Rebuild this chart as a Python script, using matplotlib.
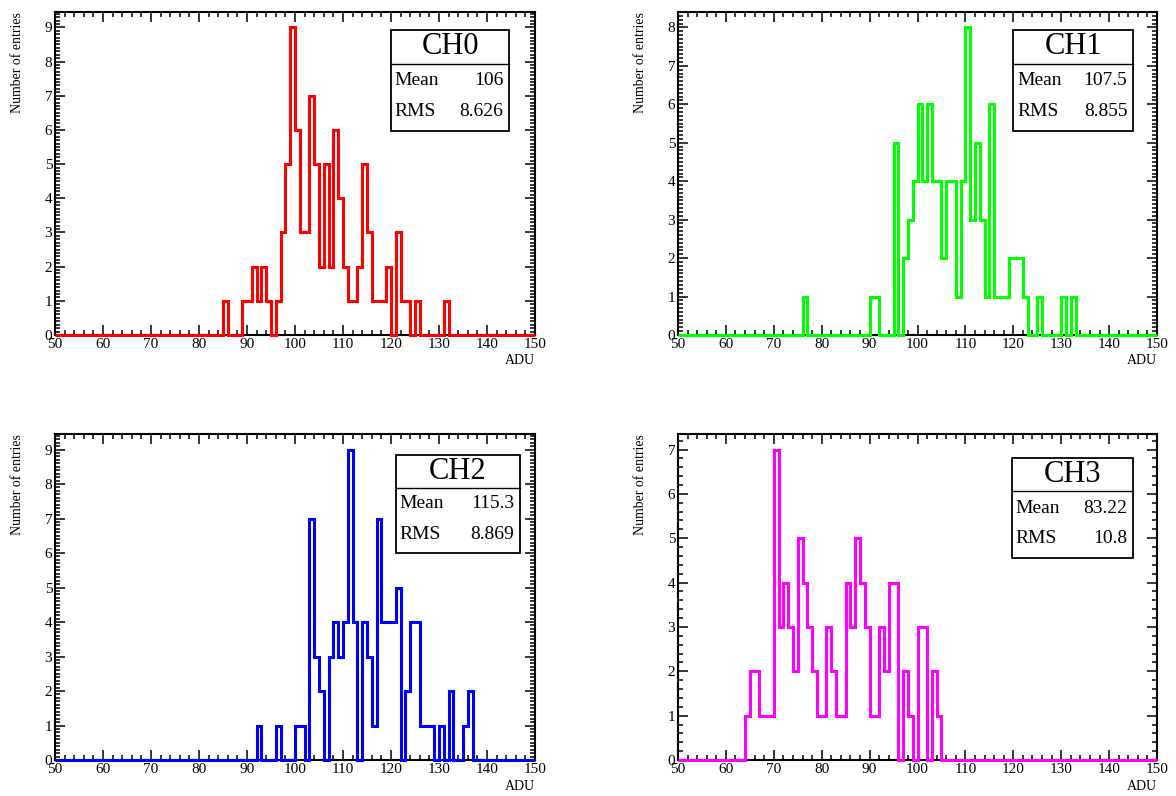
import numpy as np
import matplotlib
matplotlib.use("Agg")
import matplotlib.pyplot as plt
from matplotlib.patches import Rectangle
from matplotlib.ticker import MultipleLocator

plt.rcParams['font.family'] = ['Liberation Serif', 'DejaVu Serif']

# --- data: 1 ADU bins from 50 to 150, only non-empty bins listed ---
EDGES = np.arange(50, 151, 1)

ch0_bins = [85, 89, 90, 91, 92, 93, 94, 96, 97, 98, 99, 100, 101, 102, 103, 104, 105, 106,
            107, 108, 109, 110, 111, 112, 113, 114, 115, 116, 117, 118, 119, 121, 122, 123,
            125, 131]
ch0_counts = [1, 1, 1, 2, 1, 2, 1, 1, 3, 5, 9, 6, 3, 3, 7, 5, 2, 5,
              2, 6, 4, 2, 1, 1, 2, 5, 3, 1, 1, 1, 2, 3, 1, 1,
              1, 1]

ch1_bins = [76, 90, 91, 95, 97, 98, 99, 100, 101, 102, 103, 104, 105, 106, 107, 108, 109,
            110, 111, 112, 113, 114, 115, 116, 117, 118, 119, 120, 121, 122, 125, 130, 132]
ch1_counts = [1, 1, 1, 5, 2, 3, 4, 6, 4, 6, 4, 4, 2, 4, 4, 1, 4,
              8, 3, 5, 3, 1, 6, 1, 1, 1, 2, 2, 2, 1, 1, 1, 1]

ch2_bins = [92, 96, 100, 101, 103, 104, 105, 107, 108, 109, 110, 111, 112, 114, 115, 116,
            117, 118, 119, 120, 121, 123, 124, 125, 126, 127, 128, 130, 132, 135, 136]
ch2_counts = [1, 1, 1, 1, 7, 3, 2, 3, 4, 3, 4, 9, 4, 4, 3, 1,
              7, 4, 4, 4, 5, 2, 4, 4, 1, 1, 1, 1, 2, 1, 2]

ch3_bins = [64, 65, 66, 67, 68, 69, 70, 71, 72, 73, 74, 75, 76, 77, 78, 79, 80, 81, 82, 83,
            84, 85, 86, 87, 88, 89, 90, 91, 92, 93, 94, 95, 97, 98, 100, 101, 103, 104]
ch3_counts = [1, 2, 2, 1, 1, 1, 7, 3, 4, 3, 2, 5, 4, 3, 2, 1, 1, 3, 2, 1,
              1, 4, 3, 5, 4, 3, 1, 1, 3, 2, 4, 4, 2, 1, 3, 3, 2, 1]

names = ["CH0", "CH1", "CH2", "CH3"]
means = ["106", "107.5", "115.3", "83.22"]
rmss = ["8.626", "8.855", "8.869", "10.8"]
colors = ["#ff0000", "#00ff00", "#0000ff", "#ff00ff"]

W, H = 1176, 796
fig = plt.figure(figsize=(W / 100, H / 100), dpi=100)

# axes rectangles in pixels (left, top, right, bottom)
rects = [(55, 12, 535, 335), (678, 12, 1157, 335),
         (55, 434, 535, 760), (678, 434, 1157, 760)]
# stats boxes in axes fraction (x0, x1, ybottom, ytop)
boxes = [(0.70, 0.946, 0.632, 0.944), (0.70, 0.950, 0.632, 0.944),
         (0.71, 0.969, 0.635, 0.936), (0.697, 0.950, 0.620, 0.926)]
yminors = [0.1, 0.1, 0.1, 0.2]


def draw_panel(ax, bins, counts, color, name, mean, rms, box, yminor):
    vals = np.zeros(len(EDGES) - 1)
    vals[np.array(bins) - 50] = counts
    ax.stairs(vals, EDGES, color=color, lw=2.2, zorder=3, clip_on=False)
    ax.set_xlim(50, 150)
    ax.set_ylim(0, max(counts) * 1.05)

    ax.xaxis.set_major_locator(MultipleLocator(10))
    ax.xaxis.set_minor_locator(MultipleLocator(2))
    ax.yaxis.set_major_locator(MultipleLocator(1))
    ax.yaxis.set_minor_locator(MultipleLocator(yminor))
    ax.tick_params(which='both', direction='in', top=True, right=True,
                   labelsize=11, width=1.1)
    ax.tick_params(which='major', length=7.5, pad=2)
    ax.tick_params(which='minor', length=3.5)
    for s in ax.spines.values():
        s.set_linewidth(1.5)

    ax.text(-0.078, 1.0, "Number of entries", transform=ax.transAxes,
            rotation=90, ha='center', va='top', fontsize=10)
    ax.text(1.0, -0.08, "ADU", transform=ax.transAxes,
            ha='right', va='center', fontsize=10)

    # stats box
    x0, x1, y0, y1 = box
    ax.add_patch(Rectangle((x0, y0), x1 - x0, y1 - y0, transform=ax.transAxes,
                           facecolor='white', edgecolor='black', lw=1.3,
                           zorder=6, clip_on=False))
    h = y1 - y0
    ysep = y1 - h / 3
    ax.plot([x0, x1], [ysep, ysep], transform=ax.transAxes, color='black',
            lw=1.0, zorder=7, clip_on=False)
    ax.text((x0 + x1) / 2, y1 - h / 6, name, transform=ax.transAxes,
            ha='center', va='center', fontsize=22, zorder=8)
    ax.text(x0 + 0.008, y1 - h * 0.5, "Mean", transform=ax.transAxes,
            ha='left', va='center', fontsize=14, zorder=8)
    ax.text(x1 - 0.012, y1 - h * 0.5, mean, transform=ax.transAxes,
            ha='right', va='center', fontsize=14, zorder=8)
    ax.text(x0 + 0.008, y1 - h * 0.81, "RMS", transform=ax.transAxes,
            ha='left', va='center', fontsize=14, zorder=8)
    ax.text(x1 - 0.012, y1 - h * 0.81, rms, transform=ax.transAxes,
            ha='right', va='center', fontsize=14, zorder=8)


all_bins = [ch0_bins, ch1_bins, ch2_bins, ch3_bins]
all_counts = [ch0_counts, ch1_counts, ch2_counts, ch3_counts]

for i in range(4):
    l, t, r, b = rects[i]
    ax = fig.add_axes([l / W, 1 - b / H, (r - l) / W, (b - t) / H])
    draw_panel(ax, all_bins[i], all_counts[i], colors[i], names[i],
               means[i], rmss[i], boxes[i], yminors[i])

fig.savefig("out.png", dpi=100)
